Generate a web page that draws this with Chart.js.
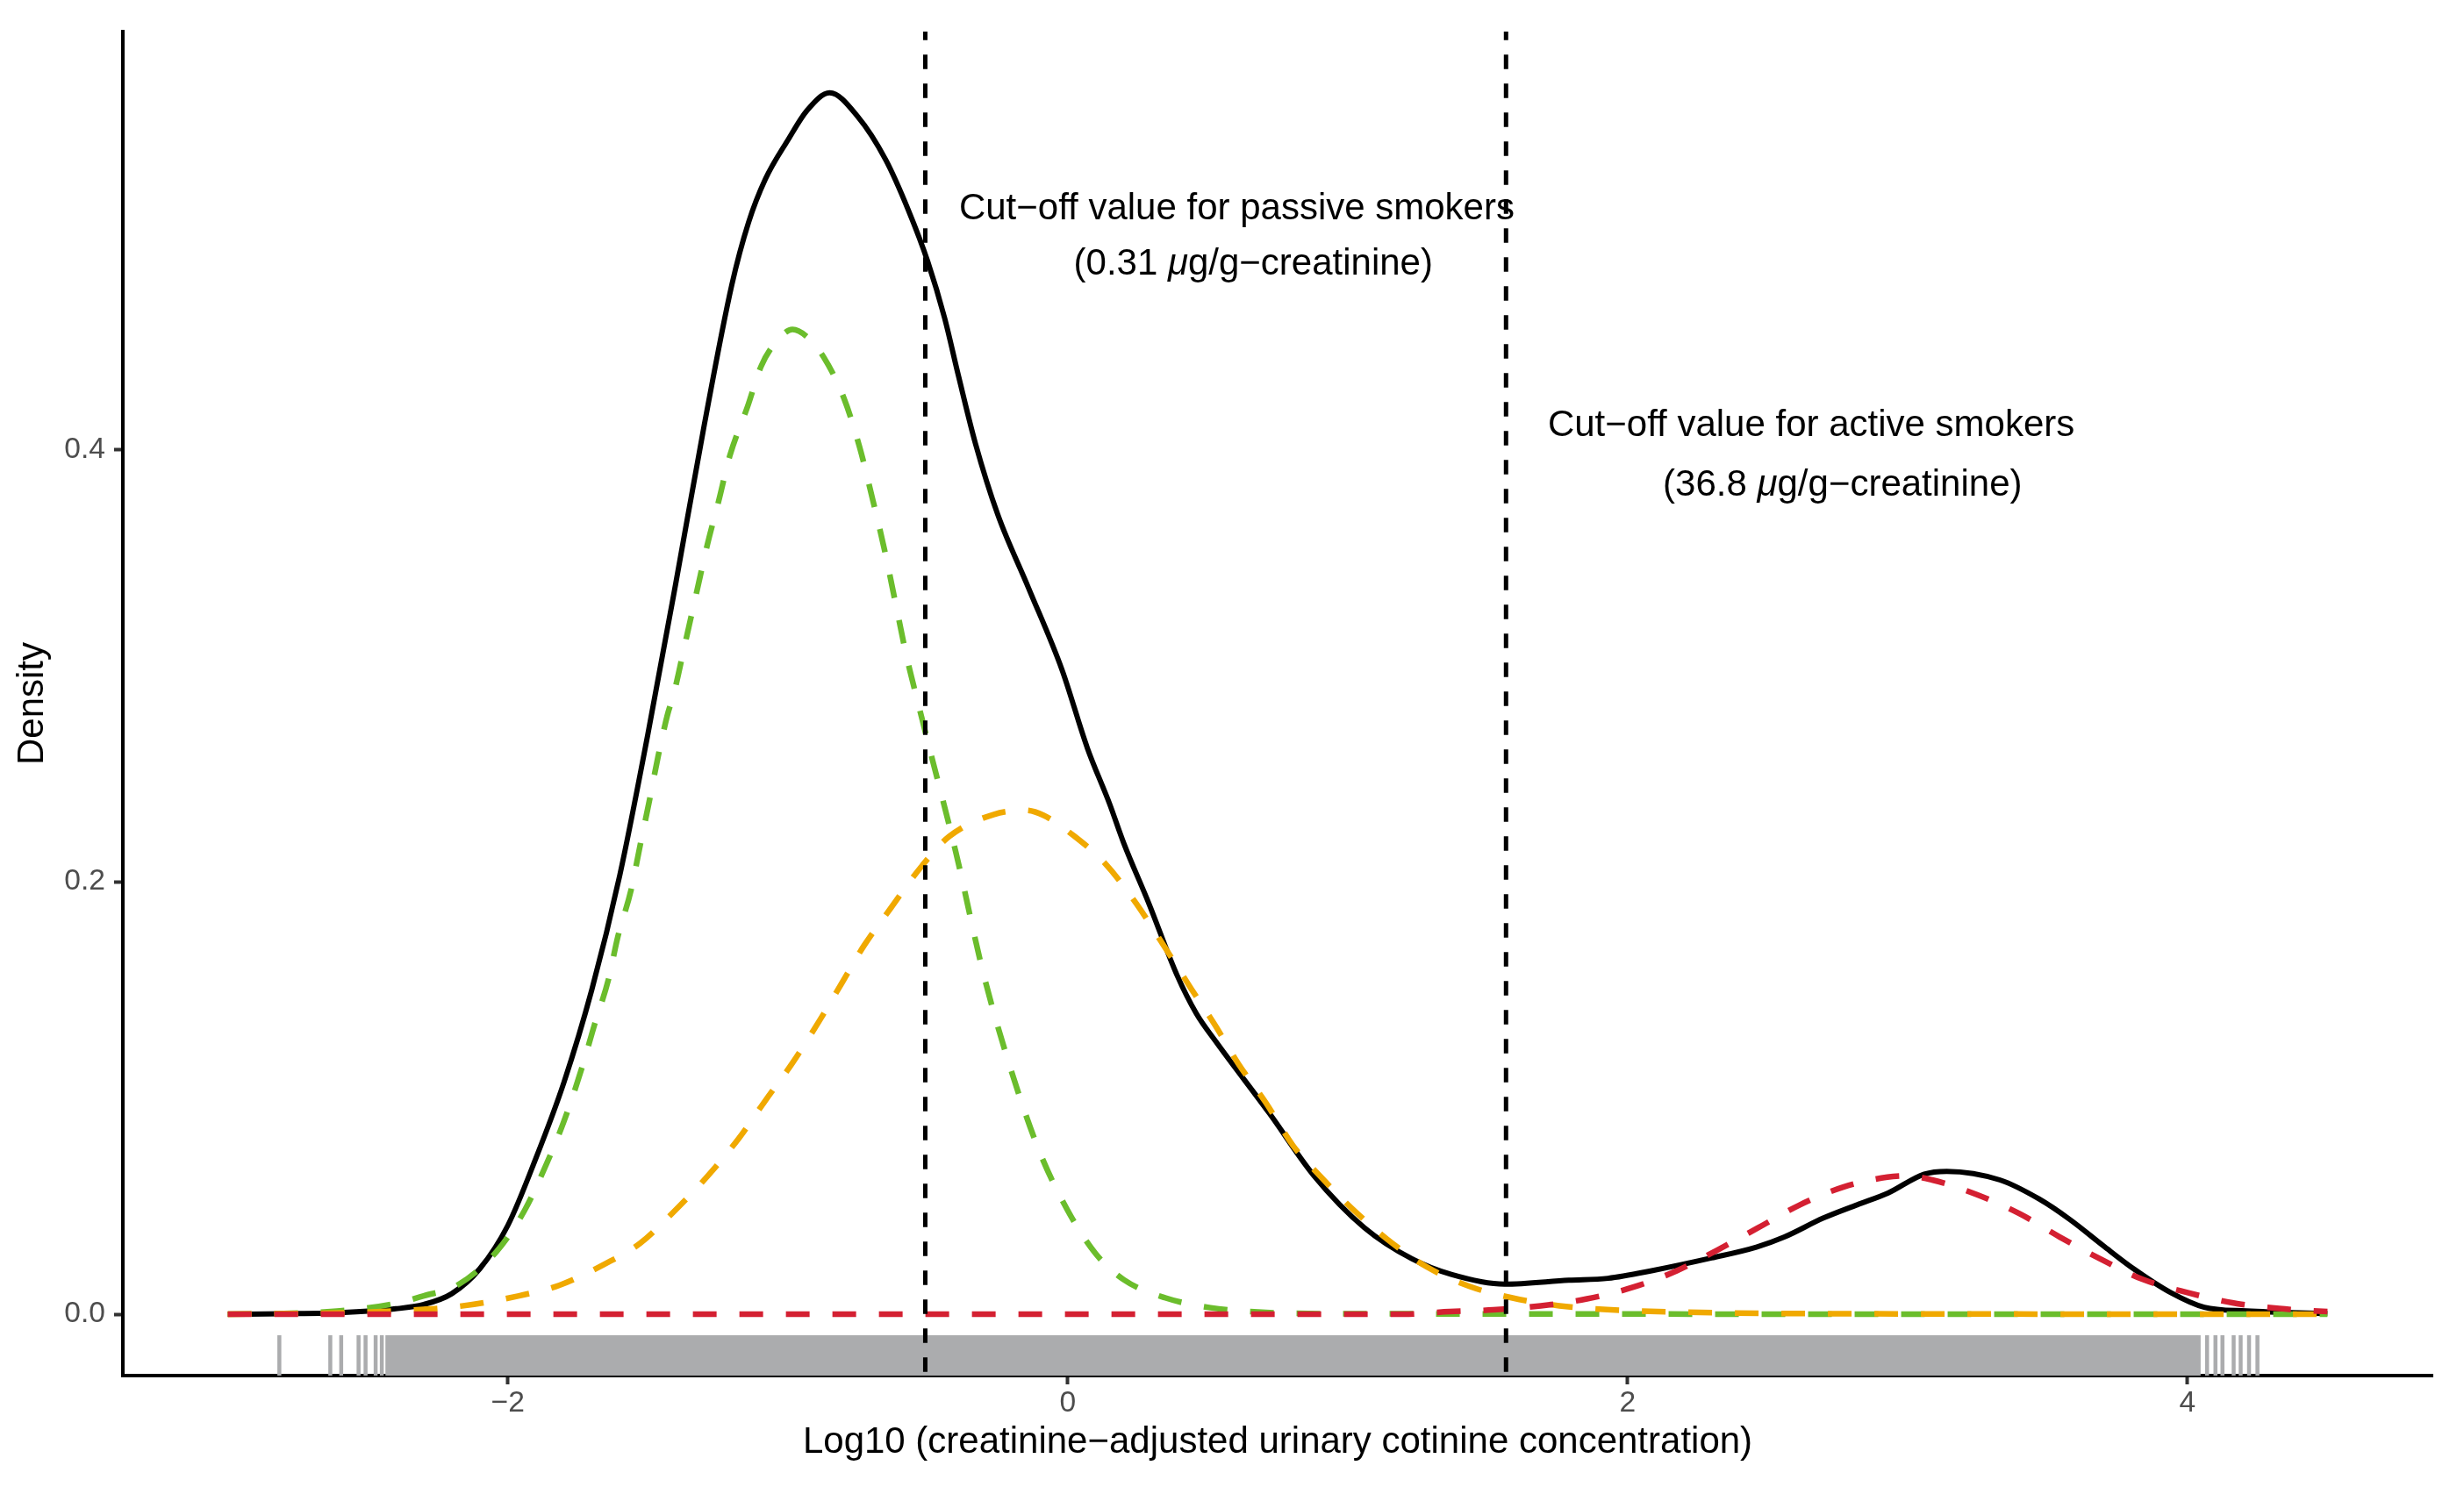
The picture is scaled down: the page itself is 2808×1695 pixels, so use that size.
<!DOCTYPE html>
<html>
<head>
<meta charset="utf-8">
<script src="https://cdn.jsdelivr.net/npm/chart.js@4.4.1/dist/chart.umd.min.js"></script>
<style>
  html, body { margin: 0; padding: 0; background: #ffffff; }
  canvas { display: block; }
</style>
</head>
<body>
<canvas id="densityChart" width="2808" height="1695" style="width:2808px;height:1695px"></canvas>
<script>
// axis ticks
const xTickValues = [-2, 0, 2, 4];
const yTickValues = [0, 0.2, 0.4];

// black: overall density
const totalX = [-3.0, -2.8, -2.6, -2.4, -2.3, -2.2, -2.1, -2.0, -1.9, -1.8, -1.7, -1.6, -1.5,
  -1.4, -1.3, -1.2, -1.14, -1.08, -1.0, -0.93, -0.85, -0.75, -0.65, -0.57, -0.5, -0.44, -0.39, -0.33,
  -0.25, -0.14, -0.02, 0.07, 0.15, 0.2, 0.29, 0.39, 0.46, 0.53, 0.72, 0.88, 1.06, 1.23, 1.37, 1.56,
  1.79, 1.93, 2.09, 2.3, 2.46, 2.56, 2.7, 2.82, 2.93, 3.06, 3.14, 3.33, 3.47, 3.58, 3.7, 3.81, 3.94,
  4.06, 4.21, 4.5];
const totalY = [0.0, 0.0002, 0.0007, 0.0025, 0.0045, 0.0095, 0.021, 0.041, 0.072, 0.107, 0.15, 0.203, 0.268,
  0.338, 0.41, 0.476, 0.505, 0.525, 0.543, 0.557, 0.565, 0.554, 0.534, 0.511, 0.487, 0.461, 0.434, 0.403,
  0.37, 0.336, 0.298, 0.262, 0.236, 0.218, 0.19, 0.157, 0.139, 0.126, 0.093, 0.064, 0.04, 0.0256, 0.0184, 0.0139,
  0.0157, 0.0166, 0.0202, 0.026, 0.031, 0.0357, 0.0445, 0.0506, 0.056, 0.0648, 0.0661, 0.0621, 0.0533, 0.0438, 0.0316, 0.0208, 0.01,
  0.0032, 0.0015, 0.0003];

// green: first component
const comp1X = [-3.0, -2.8, -2.6, -2.4, -2.3, -2.18, -2.04, -1.94, -1.86, -1.8, -1.735, -1.69, -1.64, -1.607, -1.56,
  -1.527, -1.495, -1.463, -1.43, -1.407, -1.367, -1.327, -1.287, -1.247, -1.207, -1.143, -1.095, -1.04, -0.983,
  -0.93, -0.871, -0.8, -0.743, -0.695, -0.655, -0.615, -0.575, -0.535, -0.5, -0.4, -0.3, -0.2, -0.1, 0.0,
  0.1, 0.2, 0.35, 0.51, 0.68, 1.0, 4.5];
const comp1Y = [0.0, 0.0003, 0.0015, 0.005, 0.0085, 0.0134, 0.029, 0.048, 0.07, 0.089, 0.114, 0.134, 0.155, 0.1745, 0.196,
  0.217, 0.237, 0.258, 0.277, 0.287, 0.31, 0.333, 0.356, 0.376, 0.397, 0.42, 0.4385, 0.45, 0.4555,
  0.452, 0.4426, 0.424, 0.401, 0.376, 0.354, 0.329, 0.304, 0.283, 0.265, 0.214, 0.157, 0.112, 0.075, 0.048,
  0.028, 0.016, 0.0075, 0.003, 0.001, 0.0002, 0.0];

// orange: second component
const comp2X = [-3.0, -2.6, -2.4, -2.17, -1.96, -1.815, -1.655, -1.527, -1.4, -1.287, -1.175, -1.08, -0.983,
  -0.887, -0.807, -0.727, -0.631, -0.52, -0.423, -0.263, -0.151, -0.087, 0.025, 0.133, 0.245, 0.343, 0.441,
  0.525, 0.609, 0.707, 0.805, 0.903, 1.015, 1.141, 1.281, 1.435, 1.589, 1.757, 1.926, 2.26, 2.8, 4.5];
const comp2Y = [0.0, 0.0006, 0.0015, 0.0037, 0.0085, 0.0134, 0.0231, 0.0328, 0.0483, 0.0638, 0.0813, 0.0988, 0.1162,
  0.1357, 0.1531, 0.1706, 0.188, 0.2075, 0.221, 0.2312, 0.2331, 0.2308, 0.221, 0.2086, 0.19, 0.1705, 0.1506,
  0.134, 0.116, 0.098, 0.078, 0.0637, 0.049, 0.0347, 0.022, 0.0129, 0.0075, 0.0039, 0.0021, 0.0008, 0.0002, 0.0];

// red: third component
const comp3X = [-3.0, 1.2, 1.365, 1.52, 1.69, 1.855, 2.023, 2.176, 2.32, 2.464, 2.616, 2.768, 2.928, 3.0,
  3.088, 3.248, 3.4, 3.544, 3.688, 3.84, 4.0, 4.16, 4.328, 4.5];
const comp3Y = [0.0, 0.0, 0.0012, 0.002, 0.0039, 0.0071, 0.0126, 0.0201, 0.0296, 0.0398, 0.0506, 0.0587, 0.0634, 0.064,
  0.0621, 0.0553, 0.0465, 0.0357, 0.0256, 0.0161, 0.01, 0.0053, 0.0026, 0.0012];

// cut-off values in µg/g-creatinine (drawn at log10)
const cutoffValues = [0.31, 36.8];

// rug: single marks and a solid run where marks overlap
const rugSingles = [-2.816, -2.634, -2.595, -2.533, -2.508, -2.472, -2.45, 4.04, 4.07, 4.1, 4.125, 4.165, 4.19, 4.22, 4.25];
const rugRanges = [[-2.43, 4.03]];

const annotationTexts = [
  "Cut\u2212off value for passive smokers",
  "(0.31 \u03BCg/g\u2212creatinine)",
  "Cut\u2212off value for active smokers",
  "(36.8 \u03BCg/g\u2212creatinine)",
];
// anchor (centre x, baseline y) in data units
const annotationAnchorX = [0.604, 0.663, 2.656, 2.768];
const annotationAnchorY = [0.5066, 0.481, 0.4062, 0.3785];

const FONT = '"Liberation Sans", Arial, Helvetica, sans-serif';

function toPoints(xs, ys) {
  return xs.map((x, i) => ({ x, y: ys[i] }));
}

const rugPlugin = {
  id: "rug",
  beforeDatasetsDraw(chart) {
    const { ctx, chartArea, scales } = chart;
    const len = chartArea.height * 0.03;
    ctx.save();
    ctx.fillStyle = "#ABACAE";
    ctx.strokeStyle = "#ABACAE";
    ctx.lineWidth = 4.5;
    rugRanges.forEach(([a, b]) => {
      const x1 = scales.x.getPixelForValue(a);
      const x2 = scales.x.getPixelForValue(b);
      ctx.fillRect(x1 - 2.25, chartArea.bottom - len, x2 - x1 + 4.5, len);
    });
    rugSingles.forEach((v) => {
      const px = scales.x.getPixelForValue(v);
      ctx.beginPath();
      ctx.moveTo(px, chartArea.bottom);
      ctx.lineTo(px, chartArea.bottom - len);
      ctx.stroke();
    });
    ctx.restore();
  },
};

const cutoffPlugin = {
  id: "cutoffs",
  afterDatasetsDraw(chart) {
    const { ctx, chartArea, scales } = chart;
    ctx.save();
    ctx.strokeStyle = "#000000";
    ctx.lineWidth = 5;
    ctx.setLineDash([16.5, 16.5]);
    ctx.lineDashOffset = 6.7;
    cutoffValues.forEach((c) => {
      const px = scales.x.getPixelForValue(Math.log10(c));
      ctx.beginPath();
      ctx.moveTo(px, chartArea.top);
      ctx.lineTo(px, chartArea.bottom);
      ctx.stroke();
    });
    ctx.restore();

    // annotation text, mu in italics
    ctx.save();
    ctx.fillStyle = "#000000";
    ctx.textBaseline = "alphabetic";
    ctx.textAlign = "left";
    const normal = `42px ${FONT}`;
    const italic = `italic 42px ${FONT}`;
    annotationTexts.forEach((txt, i) => {
      const parts = [];
      txt.split("\u03BC").forEach((p, j, arr) => {
        parts.push({ t: p, f: normal });
        if (j < arr.length - 1) parts.push({ t: "\u03BC", f: italic });
      });
      let total = 0;
      parts.forEach((p) => {
        ctx.font = p.f;
        p.w = ctx.measureText(p.t).width;
        total += p.w;
      });
      let x = scales.x.getPixelForValue(annotationAnchorX[i]) - total / 2;
      const y = scales.y.getPixelForValue(annotationAnchorY[i]);
      parts.forEach((p) => {
        ctx.font = p.f;
        ctx.fillText(p.t, x, y);
        x += p.w;
      });
    });
    ctx.restore();
  },
};

const dashedLine = (data, color, order) => ({
  data,
  borderColor: color,
  borderWidth: 6.5,
  borderDash: [27, 26],
  showLine: true,
  pointRadius: 0,
  fill: false,
  cubicInterpolationMode: "monotone",
  order,
});

window.addEventListener("DOMContentLoaded", () => {
  const ctx = document.getElementById("densityChart").getContext("2d");

  new Chart(ctx, {
    type: "scatter",
    data: {
      datasets: [
        dashedLine(toPoints(comp3X, comp3Y), "#D42032", 0),
        dashedLine(toPoints(comp2X, comp2Y), "#F0A900", 1),
        dashedLine(toPoints(comp1X, comp1Y), "#6BBD2C", 2),
        {
          data: toPoints(totalX, totalY),
          borderColor: "#000000",
          borderWidth: 6,
          showLine: true,
          pointRadius: 0,
          fill: false,
          cubicInterpolationMode: "monotone",
          order: 3,
        },
      ],
    },
    options: {
      responsive: false,
      maintainAspectRatio: false,
      devicePixelRatio: 1,
      animation: false,
      events: [],
      layout: { padding: { top: 36, right: 36, left: 0, bottom: 0 } },
      plugins: {
        legend: { display: false },
        tooltip: { enabled: false },
      },
      scales: {
        x: {
          type: "linear",
          min: -3.375,
          max: 4.875,
          z: 1,
          afterBuildTicks: (axis) => {
            axis.ticks = xTickValues.map((v) => ({ value: v }));
          },
          afterFit: (axis) => {
            axis.height = 127;
          },
          ticks: {
            callback: (v) => (v < 0 ? "\u2212" + Math.abs(v) : String(v)),
            color: "#4D4D4D",
            font: { family: FONT, size: 33.6 },
            padding: 2,
            maxRotation: 0,
          },
          grid: {
            drawOnChartArea: false,
            drawTicks: true,
            tickLength: 10,
            tickWidth: 4,
            tickColor: "#333333",
          },
          border: { display: true, color: "#000000", width: 4 },
          title: {
            display: true,
            text: "Log10 (creatinine\u2212adjusted urinary cotinine concentration)",
            color: "#000000",
            font: { family: FONT, size: 42 },
            padding: { top: 0, bottom: 25 },
          },
        },
        y: {
          type: "linear",
          min: -0.0284,
          max: 0.5933,
          z: 1,
          afterBuildTicks: (axis) => {
            axis.ticks = yTickValues.map((v) => ({ value: v }));
          },
          afterFit: (axis) => {
            axis.width = 140;
          },
          ticks: {
            callback: (v) => v.toFixed(1),
            color: "#4D4D4D",
            font: { family: FONT, size: 33.6 },
            padding: 10,
          },
          grid: {
            drawOnChartArea: false,
            drawTicks: true,
            tickLength: 10,
            tickWidth: 4,
            tickColor: "#333333",
          },
          border: { display: true, color: "#000000", width: 4 },
          title: {
            display: true,
            text: "Density",
            color: "#000000",
            font: { family: FONT, size: 42 },
            padding: { top: 12, bottom: 0 },
          },
        },
      },
    },
    plugins: [rugPlugin, cutoffPlugin],
  });
});
</script>
</body>
</html>
